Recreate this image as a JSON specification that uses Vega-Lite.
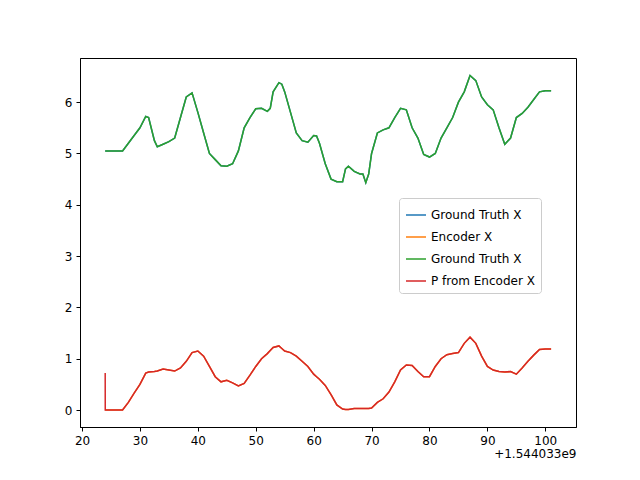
{"$schema":"https://vega.github.io/schema/vega-lite/v6.json","width":496,"height":369,"autosize":"none","padding":{"left":80,"top":58,"right":64,"bottom":53},
"config":{"view":{"stroke":"black","strokeWidth":1},"axis":{"grid":false,"domainColor":"black","tickColor":"black","labelColor":"black","labelFontSize":12,"labelFont":"DejaVu Sans","tickSize":4,"labelPadding":4}},
"data":{"values":[
{"t":24,"g":5.05,"r":0.72,"o":0},{"t":24.01,"g":5.05,"r":0,"o":0},{"t":27,"g":5.05,"r":0,"o":0},{"t":28,"g":5.2,"r":0.15,"o":0.15},{"t":29,"g":5.35,"r":0.33,"o":0.33},{"t":30,"g":5.5,"r":0.5,"o":0.5},{"t":31,"g":5.72,"r":0.72,"o":0.72},{"t":31.5,"g":5.7,"r":0.74,"o":0.74},{"t":32.5,"g":5.25,"r":0.75,"o":0.75},{"t":33,"g":5.13,"r":0.76,"o":0.76},{"t":34,"g":5.18,"r":0.8,"o":0.8},{"t":35,"g":5.23,"r":0.78,"o":0.78},{"t":36,"g":5.3,"r":0.76,"o":0.76},{"t":37,"g":5.7,"r":0.82,"o":0.82},{"t":38,"g":6.1,"r":0.95,"o":0.95},{"t":39,"g":6.18,"r":1.12,"o":1.12},{"t":40,"g":5.8,"r":1.15,"o":1.15},{"t":41,"g":5.4,"r":1.05,"o":1.05},{"t":42,"g":5.0,"r":0.85,"o":0.85},{"t":43,"g":4.88,"r":0.65,"o":0.65},{"t":44,"g":4.76,"r":0.55,"o":0.55},{"t":45,"g":4.75,"r":0.58,"o":0.58},{"t":46,"g":4.8,"r":0.53,"o":0.53},{"t":47,"g":5.05,"r":0.47,"o":0.47},{"t":48,"g":5.5,"r":0.52,"o":0.52},{"t":49,"g":5.7,"r":0.68,"o":0.68},{"t":50,"g":5.87,"r":0.85,"o":0.85},{"t":51,"g":5.88,"r":1.0,"o":1.0},{"t":52,"g":5.82,"r":1.1,"o":1.1},{"t":52.5,"g":5.88,"r":1.16,"o":1.16},{"t":53,"g":6.2,"r":1.22,"o":1.22},{"t":54,"g":6.38,"r":1.25,"o":1.25},{"t":54.5,"g":6.35,"r":1.2,"o":1.2},{"t":55,"g":6.2,"r":1.15,"o":1.15},{"t":56,"g":5.8,"r":1.12,"o":1.12},{"t":57,"g":5.4,"r":1.05,"o":1.05},{"t":58,"g":5.25,"r":0.95,"o":0.95},{"t":59,"g":5.22,"r":0.85,"o":0.85},{"t":60,"g":5.35,"r":0.7,"o":0.7},{"t":60.5,"g":5.34,"r":0.65,"o":0.65},{"t":61,"g":5.2,"r":0.6,"o":0.6},{"t":62,"g":4.8,"r":0.48,"o":0.48},{"t":63,"g":4.5,"r":0.3,"o":0.3},{"t":64,"g":4.45,"r":0.1,"o":0.1},{"t":65,"g":4.45,"r":0.02,"o":0.02},{"t":65.5,"g":4.7,"r":0.01,"o":0.01},{"t":66,"g":4.75,"r":0.01,"o":0.01},{"t":67,"g":4.65,"r":0.03,"o":0.03},{"t":68,"g":4.6,"r":0.03,"o":0.03},{"t":68.5,"g":4.6,"r":0.03,"o":0.03},{"t":69,"g":4.43,"r":0.03,"o":0.03},{"t":69.5,"g":4.6,"r":0.03,"o":0.03},{"t":70,"g":5.0,"r":0.04,"o":0.04},{"t":71,"g":5.4,"r":0.15,"o":0.15},{"t":72,"g":5.46,"r":0.22,"o":0.22},{"t":73,"g":5.5,"r":0.35,"o":0.35},{"t":74,"g":5.7,"r":0.55,"o":0.55},{"t":75,"g":5.88,"r":0.78,"o":0.78},{"t":76,"g":5.85,"r":0.88,"o":0.88},{"t":77,"g":5.5,"r":0.87,"o":0.87},{"t":78,"g":5.3,"r":0.75,"o":0.75},{"t":79,"g":4.98,"r":0.65,"o":0.65},{"t":80,"g":4.93,"r":0.65,"o":0.65},{"t":81,"g":5.0,"r":0.85,"o":0.85},{"t":82,"g":5.3,"r":1.0,"o":1.0},{"t":83,"g":5.5,"r":1.08,"o":1.08},{"t":84,"g":5.7,"r":1.1,"o":1.1},{"t":85,"g":6.0,"r":1.12,"o":1.12},{"t":86,"g":6.2,"r":1.3,"o":1.3},{"t":87,"g":6.52,"r":1.42,"o":1.42},{"t":88,"g":6.42,"r":1.3,"o":1.3},{"t":89,"g":6.1,"r":1.05,"o":1.05},{"t":90,"g":5.95,"r":0.85,"o":0.85},{"t":91,"g":5.85,"r":0.78,"o":0.78},{"t":92,"g":5.5,"r":0.75,"o":0.75},{"t":93,"g":5.18,"r":0.74,"o":0.74},{"t":94,"g":5.3,"r":0.75,"o":0.75},{"t":95,"g":5.7,"r":0.7,"o":0.7},{"t":96,"g":5.78,"r":0.82,"o":0.82},{"t":97,"g":5.9,"r":0.95,"o":0.95},{"t":98,"g":6.05,"r":1.07,"o":1.07},{"t":99,"g":6.2,"r":1.18,"o":1.18},{"t":100,"g":6.22,"r":1.19,"o":1.19},{"t":101,"g":6.22,"r":1.19,"o":1.19}
]},
"transform":[{"calculate":"datum.g","as":"a"},{"fold":["a","o","g","r"],"as":["s","y"]}],
"mark":{"type":"line","strokeWidth":1.5},
"encoding":{
"x":{"field":"t","type":"quantitative","scale":{"domain":[19.65,105.3],"nice":false},"axis":{"values":[20,30,40,50,60,70,80,90,100],"title":"+1.544033e9","titleAnchor":"end","titleAlign":"right","titleFontWeight":"normal","titleFontSize":12,"titleFont":"DejaVu Sans","titlePadding":2}},
"y":{"field":"y","type":"quantitative","scale":{"domain":[-0.33,6.86],"nice":false},"axis":{"values":[0,1,2,3,4,5,6],"title":null}},
"color":{"field":"s","type":"nominal","scale":{"domain":["a","o","g","r"],"range":["#1f77b4","#ff7f0e","#2ca02c","#d62728"]},
"legend":{"title":null,"orient":"none","legendX":319,"legendY":140,"labelExpr":"datum.value=='a'||datum.value=='g'?'Ground Truth X':datum.value=='o'?'Encoder X':'P from Encoder X'","symbolType":"stroke","symbolStrokeWidth":1.5,"symbolSize":400,"labelFontSize":12,"labelFont":"DejaVu Sans","rowPadding":5,"padding":6,"strokeColor":"#cccccc","fillColor":"white","cornerRadius":3}}
}}
